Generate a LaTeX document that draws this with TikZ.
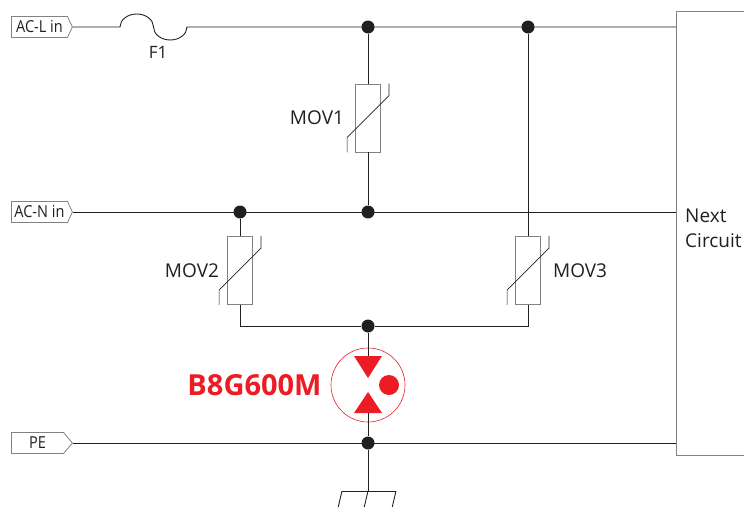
\documentclass[tikz,border=0pt]{standalone}
\usepackage{fontspec}
\setmainfont{Open Sans}
\newfontfamily\portfont[FakeStretch=0.88]{Open Sans}
\usetikzlibrary{shapes.symbols, positioning, calc}
\definecolor{wireBlack}{RGB}{35,31,32}
\definecolor{frameGray}{RGB}{130,130,130}
\definecolor{gdtRed}{RGB}{237,28,36}

% varistor slash across a mov node
\newcommand{\movslash}[1]{%
  \draw[wireBlack, line width=0.7pt] ($(#1.south west)+(-8,0)$) -- ++(0,-15)
    -- ($(#1.north east)+(8,12)$) -- ($(#1.north east)+(8,0)$);}

\begin{document}
\begin{tikzpicture}[
    x=1pt, y=-1pt,
    wire/.style={draw=wireBlack, line width=0.9pt},
    port/.style={signal, signal to=east, signal pointer angle=130, draw=frameGray, line width=0.8pt, minimum width=61pt, minimum height=21pt, inner sep=1pt, font=\portfont\fontsize{16.5}{18}\selectfont, text=wireBlack},
    mov/.style={rectangle, draw=frameGray, line width=0.8pt, minimum width=25pt, minimum height=68pt, inner sep=0pt},
    dot/.style={circle, fill=wireBlack, minimum size=13pt, inner sep=0pt},
    lbl/.style={font=\fontsize{19}{25}\selectfont, text=wireBlack, inner sep=0pt}
]
\useasboundingbox (0,0) rectangle (744,506);

% inputs
\node[port, anchor=west] (acl) at (11,27) {AC-L in};
\node[port, anchor=west] (acn) at (11,212) {AC-N in};
\node[port, anchor=west, signal pointer angle=100] (pe) at (11,443) {PE};

% next circuit
\coordinate (lend) at (676,27);
\coordinate (nend) at (676,212);
\coordinate (peend) at (676,443);
\draw[frameGray, line width=0.8pt] (744,11) -- (676,11) -- (676,455) -- (744,455);
\node[lbl, anchor=north west, align=left] (next) at (685,209) {Next\\Circuit};

% fuse
\coordinate (fuseA) at (120,27);
\draw[wire] (acl.east) -- (fuseA) arc[start angle=180, end angle=0, x radius=16.75pt, y radius=13pt]
  arc[start angle=180, end angle=360, x radius=16.75pt, y radius=13pt] -- (lend);
\node[lbl, font=\fontsize{17}{20}\selectfont] (f1) at (158,52) {F1};

% junctions
\node[dot] (jl1) at (368,27) {};
\node[dot] (jl2) at (528,27) {};
\node[dot] (jn1) at (368,212) {};
\node[dot] (jn2) at (240,212) {};
\node[dot] (jm) at (368,326) {};
\node[dot] (jpe) at (368,443) {};
\coordinate (gnd) at (368,491);

% varistors
\node[mov] (mov1) at (368,118) {};
\node[mov] (mov2) at (240,270.5) {};
\node[mov] (mov3) at (528,270.5) {};
\movslash{mov1}
\movslash{mov2}
\movslash{mov3}
\node[lbl, left=11pt of mov1] {MOV1};
\node[lbl, left=8pt of mov2] {MOV2};
\node[lbl, right=12pt of mov3] {MOV3};

% gas discharge tube
\node[circle, draw=gdtRed, line width=0.6pt, minimum size=74pt, inner sep=0pt] (gdt) at (368,385) {};
\node[left=9pt of gdt, inner sep=0pt, text=gdtRed, font=\bfseries\fontsize{29}{31}\selectfont] (gdtname) {B8G600M};
\coordinate (gdtin) at ($(gdt)+(0,-29)$);
\coordinate (gdtout) at ($(gdt)+(0,28)$);
\fill[gdtRed] ($(gdt)+(-14,-29)$) -- ($(gdt)+(14,-29)$) -- ($(gdt)+(0,-7)$) -- cycle;
\fill[gdtRed] ($(gdt)+(-14,28)$) -- ($(gdt)+(14,28)$) -- ($(gdt)+(0,7)$) -- cycle;
\fill[gdtRed] ($(gdt)+(21,0)$) circle (10pt);

% wires
\draw[wire] (acn.east) -- (nend);
\draw[wire] (pe.east) -- (peend);
\draw[wire] (jl1) -- (mov1);
\draw[wire] (mov1) -- (jn1);
\draw[wire] (jn2) -- (mov2);
\draw[wire] (jl2) -- (mov3);
\draw[wire] (mov2) |- (jm) -| (mov3);
\draw[wire] (jm) -- (gdtin);
\draw[wire] (gdtout) -- (jpe) -- (gnd);

% earth
\draw[wire] ($(gnd)+(-26,0)$) -- ($(gnd)+(28,0)$);
\foreach \dx in {-26,0,28}
  \draw[wire] ($(gnd)+(\dx,0)$) -- ++(-4,17);
\end{tikzpicture}
\end{document}
